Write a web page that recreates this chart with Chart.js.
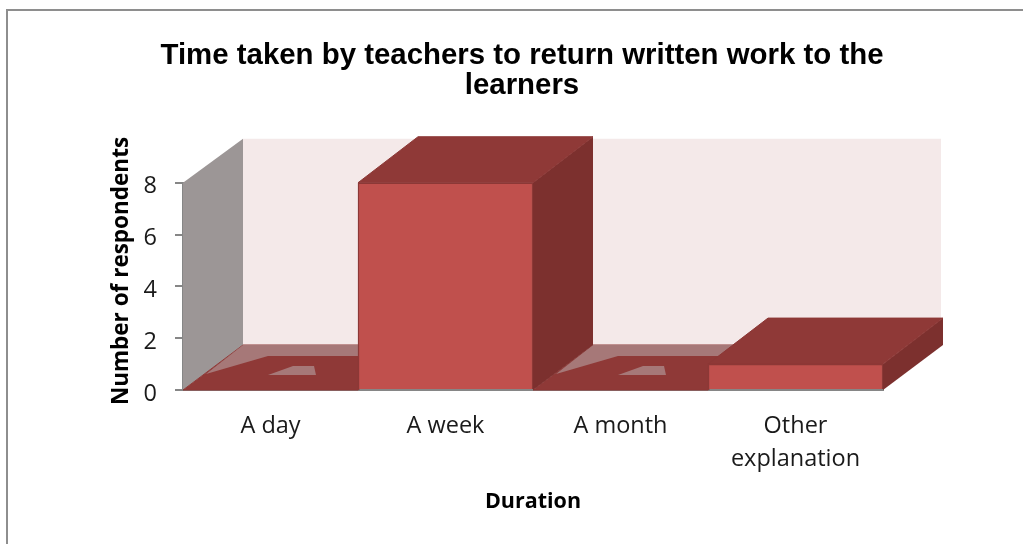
<!DOCTYPE html>
<html>
<head>
<meta charset="utf-8">
<title>Time taken by teachers</title>
<script src="https://cdn.jsdelivr.net/npm/chart.js@4"></script>
<style>
    html, body { margin: 0; padding: 0; background: #fff; overflow: hidden; }
    #frame { position: absolute; left: 6px; top: 9px; right: 0; bottom: 0; border-left: 2px solid #8e8e8e; border-top: 2px solid #8e8e8e; }
    #wrap { position: absolute; left: 0; top: 0; width: 1023px; height: 544px; }
</style>
</head>
<body>
<div id="frame"></div>
<div id="wrap"><canvas id="durationChart"></canvas></div>
<script>
const categories = ['A day', 'A week', 'A month', ['Other', 'explanation']];
const respondents = [0, 8, 0, 1];
const yTicks = [0, 2, 4, 6, 8];
const chartTitle = ['Time taken by teachers to return written work to the', 'learners'];
const yTitle = 'Number of respondents';

// Colors of the box faces and walls
const FRONT = '#c0504d';
const TOP = '#8f3937';
const SIDE = '#7c302e';
const EDGE = '#8c3836';
const WALL = '#f4e9e9';
const LEFT_WALL = '#9c9696';
const FLOOR_GLARE = '#a67878';
const AXIS = '#868686';

// Oblique depth of the fake 3D box
const DEPTH_X = 60;
const DEPTH_Y = 45;

function poly(ctx, points, fill, stroke) {
    ctx.beginPath();
    points.forEach((p, i) => i ? ctx.lineTo(p[0], p[1]) : ctx.moveTo(p[0], p[1]));
    ctx.closePath();
    ctx.fillStyle = fill;
    ctx.fill();
    if (stroke) {
        ctx.strokeStyle = stroke;
        ctx.lineWidth = 1;
        ctx.stroke();
    }
}

const boxes3d = {
    id: 'boxes3d',
    afterLayout(chart) {
        // The title sits right of the plot centre in the original
        chart.titleBlock.left += 26;
        chart.titleBlock.right += 26;
    },
    beforeDatasetsDraw(chart) {
        const { ctx, scales: { x, y } } = chart;
        const bars = chart.getDatasetMeta(0).data;
        const left = x.left, right = x.right;
        const base = y.getPixelForValue(0);
        const top = y.getPixelForValue(yTicks[yTicks.length - 1]);
        ctx.save();

        // Walls
        poly(ctx, [[left + DEPTH_X, top - DEPTH_Y + 1], [right + DEPTH_X - 2, top - DEPTH_Y + 1],
                   [right + DEPTH_X - 2, base - DEPTH_Y], [left + DEPTH_X, base - DEPTH_Y]], WALL);
        poly(ctx, [[left, top], [left + DEPTH_X, top - DEPTH_Y + 1],
                   [left + DEPTH_X, base - DEPTH_Y], [left, base]], LEFT_WALL);

        // Zero bars lie flat on the floor, with the glare patches showing through
        bars.forEach((bar, i) => {
            if (respondents[i] !== 0) return;
            const l = bar.x - bar.width / 2, r = bar.x + bar.width / 2;
            const back = base - DEPTH_Y;
            poly(ctx, [[l, base], [r, base], [r + DEPTH_X, back], [l + DEPTH_X, back]], TOP, EDGE);
            poly(ctx, [[l + 23, base - 16], [l + DEPTH_X, back], [r + DEPTH_X, back],
                       [r + DEPTH_X, back + 11], [l + 85, back + 11]], FLOOR_GLARE);
            poly(ctx, [[l + 85, base - 15], [l + 110, base - 24], [l + 131, base - 24], [l + 133, base - 15]], FLOOR_GLARE);
        });

        // Top and right faces of the standing bars
        bars.forEach((bar, i) => {
            if (respondents[i] === 0) return;
            const l = bar.x - bar.width / 2, r = bar.x + bar.width / 2;
            poly(ctx, [[r, bar.y], [r + DEPTH_X, bar.y - DEPTH_Y - 1],
                       [r + DEPTH_X, base - DEPTH_Y], [r, base]], SIDE);
            poly(ctx, [[l, bar.y], [l + DEPTH_X, bar.y - DEPTH_Y - 1],
                       [r + DEPTH_X, bar.y - DEPTH_Y - 1], [r, bar.y]], TOP, EDGE);
        });
        ctx.restore();
    },
    afterDraw(chart) {
        // Axis title by hand: it is centred higher than the plot area
        const { ctx } = chart;
        ctx.save();
        ctx.translate(122, 271);
        ctx.rotate(-Math.PI / 2);
        ctx.fillStyle = '#000';
        ctx.font = 'bold 22.5px "Open Sans"';
        ctx.textAlign = 'center';
        ctx.textBaseline = 'middle';
        ctx.fillText(yTitle, 0, 0);
        ctx.restore();
    }
};

new Chart(document.getElementById('durationChart'), {
    type: 'bar',
    data: {
        labels: categories,
        datasets: [{
            data: respondents,
            backgroundColor: FRONT,
            borderColor: EDGE,
            borderWidth: 1.5,
            categoryPercentage: 1,
            barPercentage: 1
        }]
    },
    plugins: [boxes3d],
    options: {
        responsive: true,
        maintainAspectRatio: false,
        animation: false,
        layout: { padding: { left: 109, right: 140, top: 0, bottom: 29 } },
        plugins: {
            legend: { display: false },
            tooltip: { enabled: false },
            title: {
                display: true,
                text: chartTitle,
                color: '#000',
                font: { family: '"Liberation Sans"', size: 29.4, weight: 'bold', lineHeight: 1.05 },
                padding: { top: 40, bottom: 81 }
            }
        },
        scales: {
            x: {
                afterFit: scale => { scale.height = 125; },
                grid: { display: false, drawTicks: false },
                border: { display: true, color: AXIS, width: 2 },
                ticks: {
                    color: '#1a1a1a',
                    padding: 20,
                    maxRotation: 0,
                    font: { family: '"Open Sans"', size: 23.5, lineHeight: 1.4 }
                },
                title: {
                    display: true,
                    text: 'Duration',
                    color: '#000',
                    font: { family: '"Open Sans"', size: 21.5, weight: 'bold' },
                    padding: 0
                }
            },
            y: {
                min: 0,
                max: 8,
                afterFit: scale => { scale.width = 74; },
                afterBuildTicks: scale => { scale.ticks = yTicks.map(v => ({ value: v })); },
                grid: { drawOnChartArea: false, drawTicks: true, tickLength: 8, color: AXIS, lineWidth: 2 },
                border: { display: true, color: AXIS, width: 2 },
                ticks: {
                    color: '#1a1a1a',
                    padding: 18,
                    // empty first line pushes the number a few pixels under its tick
                    callback: value => ['', String(value)],
                    font: { family: '"Open Sans"', size: 23.5, lineHeight: 0.34 }
                }
            }
        }
    }
});
</script>
</body>
</html>
